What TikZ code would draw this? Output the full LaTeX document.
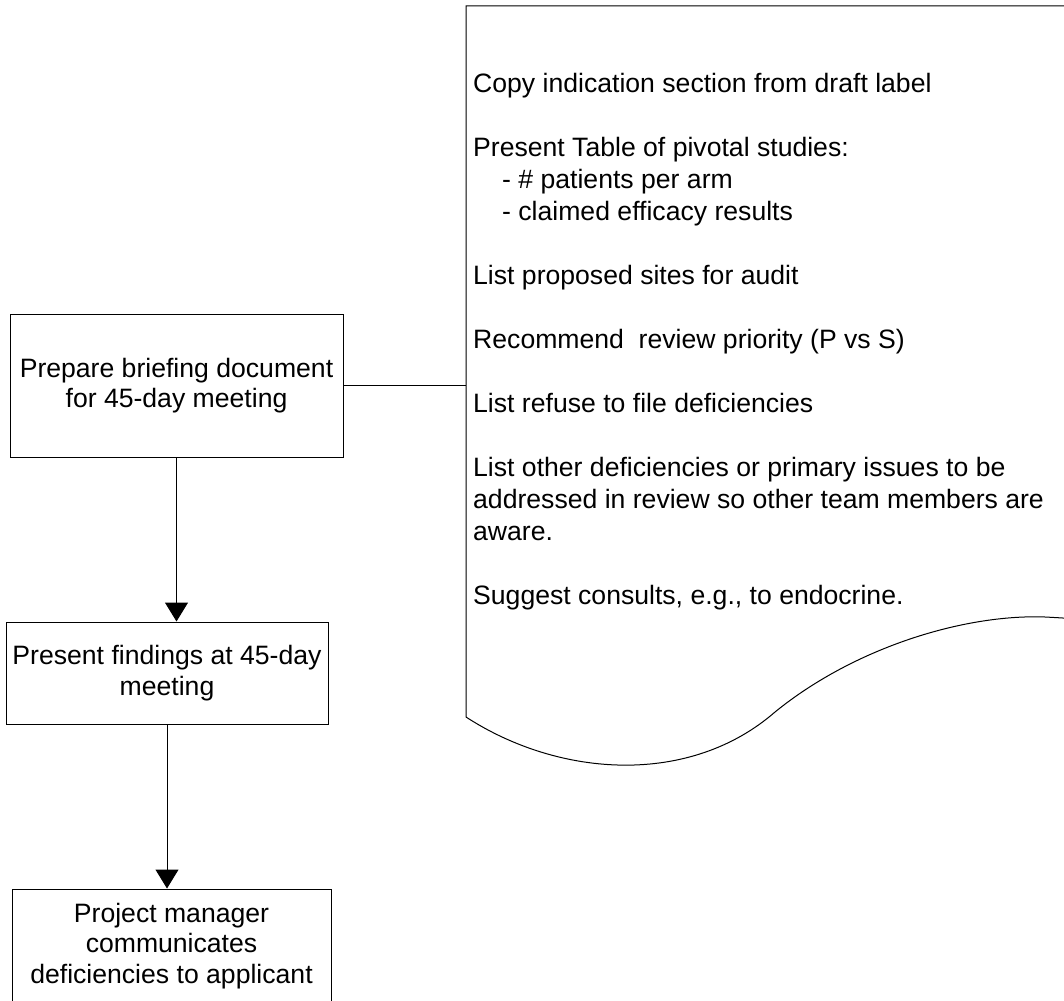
\documentclass[tikz,border=0pt]{standalone}
\usepackage{fontspec}
\setmainfont{Liberation Sans}
\usetikzlibrary{arrows.meta}

\tikzset{
  procbox/.style={draw=black, line width=1pt, inner sep=0pt, align=center,
    font=\fontsize{26.6}{30.5}\selectfont},
  flow/.style={draw=black, line width=1pt, -{Triangle[width=23pt,length=19pt]}},
  docline/.style={draw=black, line width=1pt},
  doctext/.style={inner sep=0pt, align=left, anchor=north west,
    font=\fontsize{26.6}{32}\selectfont}
}

\begin{document}
\begin{tikzpicture}[x=1pt, y=-1pt]
  \useasboundingbox (0,0) rectangle (1064,1000);
  \clip (0,0) rectangle (1064,1000);
  \fill[white] (0,0) rectangle (1064,1000);

  % process steps
  \node[procbox, minimum width=333pt, minimum height=143pt] (brief) at (176.5,385.5)
    {Prepare briefing document\\for 45-day meeting};
  \node[procbox, minimum width=322pt, minimum height=102pt] (present) at (167,673)
    {Present findings at 45-day\\meeting};
  \node[procbox, minimum width=319pt, minimum height=114pt] (notify) at (171.5,946)
    {Project manager\\communicates\\deficiencies to applicant};

  % document shape with wavy lower edge
  \coordinate (doctl) at (466,6);
  \coordinate (docbl) at (466,717);
  \coordinate (doctr) at (1140,6);
  \draw[docline] (1140,625) -- (doctr) -- (doctl) -- (docbl)
    .. controls (560,778) and (690,786) .. (775,712)
    .. controls (855,647) and (965,614) .. (1045,617)
    .. controls (1085,619) and (1110,622) .. (1140,625);
  \coordinate (docin) at (466,386);

  % document contents (first baseline near y = 92)
  \node[doctext] (notes) at (473,73) {%
    Copy indication section from draft label\\[32pt]
    Present Table of pivotal studies:\\
    \hspace*{29pt}- \# patients per arm\\
    \hspace*{29pt}- claimed efficacy results\\[32pt]
    List proposed sites for audit\\[32pt]
    Recommend\ \ review priority (P vs S)\\[32pt]
    List refuse to file deficiencies\\[32pt]
    List other deficiencies or primary issues to be\\
    addressed in review so other team members are\\
    aware.\\[32pt]
    Suggest consults, e.g., to endocrine.};

  % connectors
  \draw[docline] (brief.east) -- (brief.east -| docin);
  \draw[flow] (brief.south) -- (brief.south |- present.north);
  \draw[flow] (present.south) -- (present.south |- notify.north);
\end{tikzpicture}
\end{document}
